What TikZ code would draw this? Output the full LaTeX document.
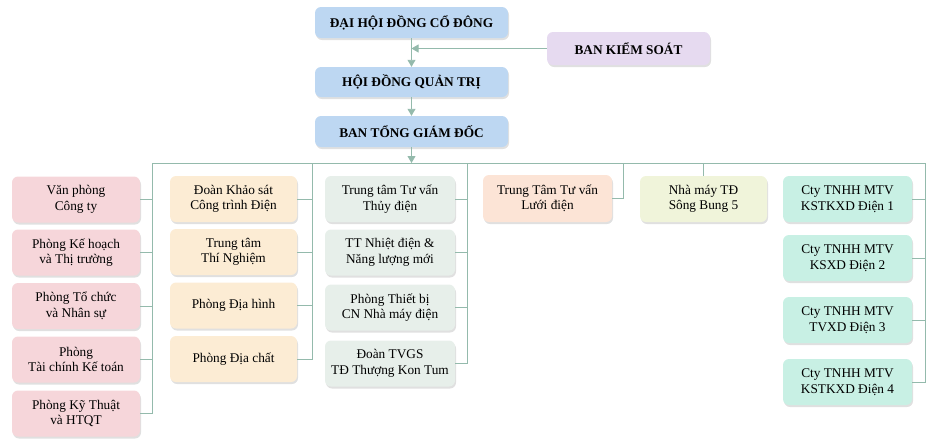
\documentclass[tikz,border=0pt]{standalone}
\usepackage{fontspec}
\setmainfont{Liberation Serif}
\usetikzlibrary{arrows.meta,shadows}
\definecolor{linec}{RGB}{148,186,172}
\definecolor{topc}{RGB}{189,215,242}
\definecolor{bksc}{RGB}{230,218,240}
\definecolor{pinkc}{RGB}{246,214,218}
\definecolor{beigec}{RGB}{252,236,212}
\definecolor{greyc}{RGB}{231,239,234}
\definecolor{peachc}{RGB}{252,228,214}
\definecolor{yelc}{RGB}{240,244,218}
\definecolor{aquac}{RGB}{200,240,228}
\tikzset{
  unit/.style={rounded corners=6pt, align=center, inner sep=0pt,
    font=\fontsize{13.3}{15.5}\selectfont,
    drop shadow={shadow xshift=1pt, shadow yshift=-2pt, opacity=0.35, fill=black!35}},
  headbox/.style={unit, fill=topc, minimum width=193pt, minimum height=31pt,
    font=\fontsize{13.3}{15.5}\selectfont\bfseries},
  subbox/.style={unit, minimum width=128pt, minimum height=46pt},
  link/.style={draw=linec, line width=0.9pt},
  arr/.style={link, -{Triangle[width=8pt,length=7pt]}, color=linec}
}
\begin{document}
\begin{tikzpicture}[x=1pt,y=-1pt]
            \useasboundingbox (0,0) rectangle (932,445);
            % management
            \node[headbox] (dhcd) at (411.5,22.5) {ĐẠI HỘI ĐỒNG CỔ ĐÔNG};
            \node[headbox, fill=bksc, minimum width=163pt, minimum height=33pt] (bks) at (628.5,48.5) {BAN KIỂM SOÁT};
            \node[headbox, minimum height=30pt] (hdqt) at (411.5,82) {HỘI ĐỒNG QUẢN TRỊ};
            \node[headbox] (tgd) at (411.5,131.5) {BAN TỔNG GIÁM ĐỐC};
            \draw[arr] (dhcd.south) -- (hdqt.north);
            \draw[arr] (bks.west) -- (bks.west -| dhcd.south);
            \draw[arr] (hdqt.south) -- (tgd.north);
            % bus
            \coordinate (busl) at (152,163);
            \coordinate (busr) at (925,163);
            \draw[arr] (tgd.south) -- (tgd.south |- busl);
            \draw[link] (busl) -- (busr);
            % column 1
            \node[subbox, fill=pinkc] (vp) at (76,199.5) {Văn phòng\\Công ty};
            \node[subbox, fill=pinkc] (khtt) at (76,252.5) {Phòng Kế hoạch\\và Thị trường};
            \node[subbox, fill=pinkc] (tcns) at (76,306) {Phòng Tổ chức\\và Nhân sự};
            \node[subbox, fill=pinkc] (tckt) at (76,359.5) {Phòng\\Tài chính Kế toán};
            \node[subbox, fill=pinkc] (ktqt) at (76,413.5) {Phòng Kỹ Thuật\\và HTQT};
            \draw[link] (busl) -- (busl |- ktqt.east) -- (ktqt.east);
            \draw[link] (vp.east) -- (vp.east -| busl);
            \draw[link] (khtt.east) -- (khtt.east -| busl);
            \draw[link] (tcns.east) -- (tcns.east -| busl);
            \draw[link] (tckt.east) -- (tckt.east -| busl);
            % column 2
            \coordinate (rail2) at (312,163);
            \node[subbox, fill=beigec, minimum width=127pt] (dks) at (233.5,199) {Đoàn Khảo sát\\Công trình Điện};
            \node[subbox, fill=beigec, minimum width=127pt] (ttn) at (233.5,252) {Trung tâm\\Thí Nghiệm};
            \node[subbox, fill=beigec, minimum width=127pt] (pdh) at (233.5,305.5) {Phòng Địa hình};
            \node[subbox, fill=beigec, minimum width=127pt] (pdc) at (233.5,359) {Phòng Địa chất};
            \draw[link] (rail2) -- (rail2 |- pdc.east) -- (pdc.east);
            \draw[link] (dks.east) -- (dks.east -| rail2);
            \draw[link] (ttn.east) -- (ttn.east -| rail2);
            \draw[link] (pdh.east) -- (pdh.east -| rail2);
            % column 3
            \coordinate (rail3) at (467,163);
            \node[subbox, fill=greyc, minimum width=130pt] (tdien) at (390,199) {Trung tâm Tư vấn\\Thủy điện};
            \node[subbox, fill=greyc, minimum width=130pt] (ndien) at (390,252.5) {TT Nhiệt điện \&\\Năng lượng mới};
            \node[subbox, fill=greyc, minimum width=130pt] (ptb) at (390,307.5) {Phòng Thiết bị\\CN Nhà máy điện};
            \node[subbox, fill=greyc, minimum width=130pt] (tvgs) at (390,363.5) {Đoàn TVGS\\TĐ Thượng Kon Tum};
            \draw[link] (rail3) -- (rail3 |- tvgs.east) -- (tvgs.east);
            \draw[link] (tdien.east) -- (tdien.east -| rail3);
            \draw[link] (ndien.east) -- (ndien.east -| rail3);
            \draw[link] (ptb.east) -- (ptb.east -| rail3);
            % column 4 and 5
            \coordinate (rail4) at (623,163);
            \node[subbox, fill=peachc, minimum width=129pt, minimum height=47pt] (luoi) at (547.5,198.5) {Trung Tâm Tư vấn\\Lưới điện};
            \draw[link] (rail4) -- (rail4 |- luoi.east) -- (luoi.east);
            \node[subbox, fill=yelc, minimum width=127pt] (sb5) at (703.5,199) {Nhà máy TĐ\\Sông Bung 5};
            \draw[link] (sb5.north |- busl) -- (sb5.north);
            % column 6
            \node[subbox, fill=aquac, minimum width=129pt] (cty1) at (847.5,199) {Cty TNHH MTV\\KSTKXD Điện 1};
            \node[subbox, fill=aquac, minimum width=129pt] (cty2) at (847.5,258) {Cty TNHH MTV\\KSXD Điện 2};
            \node[subbox, fill=aquac, minimum width=129pt] (cty3) at (847.5,320) {Cty TNHH MTV\\TVXD Điện 3};
            \node[subbox, fill=aquac, minimum width=129pt] (cty4) at (847.5,382) {Cty TNHH MTV\\KSTKXD Điện 4};
            \draw[link] (busr) -- (busr |- cty4.east) -- (cty4.east);
            \draw[link] (cty1.east) -- (cty1.east -| busr);
            \draw[link] (cty2.east) -- (cty2.east -| busr);
            \draw[link] (cty3.east) -- (cty3.east -| busr);
        \end{tikzpicture}
\end{document}
